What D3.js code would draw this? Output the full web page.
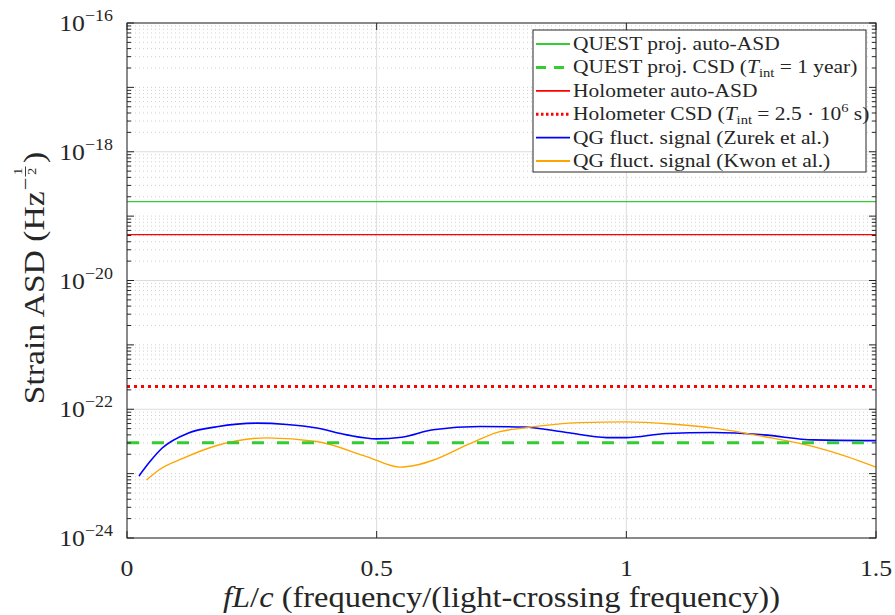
<!DOCTYPE html>
<html>
<head>
<meta charset="utf-8">
<script src="https://cdn.jsdelivr.net/npm/d3@7"></script>
<style>
  body { margin: 0; background: #fff; }
  svg { display: block; }
  text { font-family: "Liberation Serif", "Times New Roman", serif; fill: #262626; }
</style>
</head>
<body>
<svg id="chart" width="895" height="615"></svg>
<script>
// ---- data ----
const xTicks = [0, 0.5, 1, 1.5];
const xTickLabels = ["0", "0.5", "1", "1.5"];
const yTickExponents = [-24, -22, -20, -18, -16];
const yTickLabels = ["\u221224", "\u221222", "\u221220", "\u221218", "\u221216"];

// flat noise levels (strain ASD, Hz^-1/2)
const questAutoASD = 1.68e-19;
const questCSD = 3.03e-23;
const holoAutoASD = 5.15e-20;
const holoCSD = 2.25e-22;

// QG fluctuation signal, Zurek et al.
const zurekFreq = [0.024, 0.046, 0.07, 0.122, 0.18, 0.26, 0.32, 0.38, 0.44, 0.5, 0.55, 0.613, 0.707, 0.794, 0.88, 0.961, 1.0, 1.08, 1.174, 1.275, 1.375, 1.5];
const zurekASD  = [9.2e-24, 1.54e-23, 2.48e-23, 4.25e-23, 5.35e-23, 6.08e-23, 5.8e-23, 5.1e-23, 4.0e-23, 3.47e-23, 3.68e-23, 4.8e-23, 5.4e-23, 5.3e-23, 4.35e-23, 3.63e-23, 3.63e-23, 4.2e-23, 4.35e-23, 4.0e-23, 3.34e-23, 3.25e-23];

// QG fluctuation signal, Kwon et al.
const kwonFreq = [0.039, 0.066, 0.113, 0.18, 0.28, 0.38, 0.48, 0.547, 0.58, 0.614, 0.681, 0.747, 0.794, 0.908, 1.0, 1.09, 1.175, 1.275, 1.375, 1.442, 1.5];
const kwonASD  = [7.98e-24, 1.17e-23, 1.74e-23, 2.73e-23, 3.59e-23, 3.15e-23, 1.84e-23, 1.26e-23, 1.36e-23, 1.63e-23, 2.79e-23, 4.5e-23, 5.1e-23, 6.2e-23, 6.37e-23, 5.9e-23, 5.1e-23, 3.77e-23, 2.63e-23, 1.84e-23, 1.26e-23];

// legend entries: text segments [text, style]
const legendLabels = [
  [["QUEST proj. auto-ASD", ""]],
  [["QUEST proj. CSD (", ""], ["T", "i"], ["int", "sub"], [" = 1 year)", ""]],
  [["Holometer auto-ASD", ""]],
  [["Holometer CSD (", ""], ["T", "i"], ["int", "sub"], [" = 2.5 \u00b7 10", ""], ["6", "sup"], [" s)", ""]],
  [["QG fluct. signal (Zurek et al.)", ""]],
  [["QG fluct. signal (Kwon et al.)", ""]]
];

// ---- styles ----
const styles = [
  { color: "#33cc33", width: 1.2, dash: null },
  { color: "#33cc33", width: 3, dash: "12,13" },
  { color: "#ff0000", width: 1.2, dash: null },
  { color: "#ff0000", width: 3, dash: "3,4" },
  { color: "#0000ff", width: 1.6, dash: null },
  { color: "#ffa500", width: 1.4, dash: null }
];
const STRETCH = 1.12;   // widen the serif glyphs a little

const svg = d3.select("#chart");
const m = { left: 127, right: 876, top: 23, bottom: 538 };
const x = d3.scaleLinear().domain([0, 1.5]).range([m.left, m.right]);
const y = d3.scaleLog().domain([1e-24, 1e-16]).range([m.bottom, m.top]);
const axisCol = "#262626";

// text helper: places text at (px, py) with horizontal stretch
function label(parent, px, py, size, anchor) {
  return parent.append("text")
    .attr("transform", `translate(${px},${py}) scale(${STRETCH},1)`)
    .attr("font-size", size)
    .attr("text-anchor", anchor || "start");
}

// ---- grid ----
const grid = svg.append("g");
const minorVals = [];
for (let e = -24; e < -16; e++) {
  for (let k = 1; k <= 9; k++) {
    if (k === 1 && e % 2 === 0) continue;
    minorVals.push(k * Math.pow(10, e));
  }
}
grid.selectAll(".minor").data(minorVals).join("line")
  .attr("x1", m.left).attr("x2", m.right)
  .attr("y1", d => y(d)).attr("y2", d => y(d))
  .attr("stroke", "#c4c4c4").attr("stroke-width", 0.8)
  .attr("stroke-dasharray", "1,3");
grid.selectAll(".majorY").data(yTickExponents.map(e => Math.pow(10, e))).join("line")
  .attr("x1", m.left).attr("x2", m.right)
  .attr("y1", d => y(d)).attr("y2", d => y(d))
  .attr("stroke", "#dcdcdc").attr("stroke-width", 1);
grid.selectAll(".majorX").data(xTicks).join("line")
  .attr("x1", d => x(d)).attr("x2", d => x(d))
  .attr("y1", m.top).attr("y2", m.bottom)
  .attr("stroke", "#dcdcdc").attr("stroke-width", 1);

// ---- data lines ----
const plot = svg.append("g");
const xDom = x.domain();
const line = d3.line().x(d => x(d[0])).y(d => y(d[1]));
const smooth = d3.line().x(d => x(d[0])).y(d => y(d[1])).curve(d3.curveMonotoneX);

const zurek = zurekFreq.map((f, i) => [f, zurekASD[i]]);
const kwon = kwonFreq.map((f, i) => [f, kwonASD[i]]);

function drawPath(data, st, gen) {
  plot.append("path").datum(data)
    .attr("d", gen)
    .attr("fill", "none")
    .attr("stroke", st.color)
    .attr("stroke-width", st.width)
    .attr("stroke-dasharray", st.dash);
}
drawPath(xDom.map(f => [f, questAutoASD]), styles[0], line);
drawPath(xDom.map(f => [f, holoAutoASD]), styles[2], line);
drawPath(xDom.map(f => [f, holoCSD]), styles[3], line);
drawPath(zurek, styles[4], smooth);
drawPath(kwon, styles[5], smooth);
drawPath(xDom.map(f => [f, questCSD]), styles[1], line);

// ---- axes box and ticks ----
const ax = svg.append("g");
ax.append("rect").attr("x", m.left).attr("y", m.top)
  .attr("width", m.right - m.left).attr("height", m.bottom - m.top)
  .attr("fill", "none").attr("stroke", axisCol).attr("stroke-width", 1);

const minorTicks = [];
for (let e = -24; e < -16; e++) for (let k = 2; k <= 9; k++) minorTicks.push(k * Math.pow(10, e));
const oddDecades = [];
for (let e = -23; e < -16; e += 2) oddDecades.push(Math.pow(10, e));
const yMajor = yTickExponents.map(e => Math.pow(10, e));

function yTickMarks(vals, len) {
  [m.left, m.right].forEach((xx, side) => {
    ax.selectAll(null).data(vals).join("line")
      .attr("x1", xx).attr("x2", side === 0 ? xx + len : xx - len)
      .attr("y1", d => y(d)).attr("y2", d => y(d))
      .attr("stroke", axisCol).attr("stroke-width", 1);
  });
}
yTickMarks(minorTicks, 4);
yTickMarks(oddDecades, 7);
yTickMarks(yMajor, 7);

[m.bottom, m.top].forEach((yy, side) => {
  ax.selectAll(null).data(xTicks).join("line")
    .attr("x1", d => x(d)).attr("x2", d => x(d))
    .attr("y1", yy).attr("y2", side === 0 ? yy - 7 : yy + 7)
    .attr("stroke", axisCol).attr("stroke-width", 1);
});

// tick labels
const xl = svg.append("g");
xTicks.forEach((d, i) => {
  label(xl, x(d), 576, 23, "middle").text(xTickLabels[i]);
});

const yl = svg.append("g");
yTickExponents.forEach((e, i) => {
  const t = label(yl, 113, y(Math.pow(10, e)) + 8, 23, "end");
  t.append("tspan").text("10");
  t.append("tspan").attr("font-size", 16).attr("dy", -10).text(yTickLabels[i]);
});

// x axis label
const xlab = label(svg, (m.left + m.right) / 2, 607, 29, "middle");
xlab.append("tspan").attr("font-style", "italic").text("fL");
xlab.append("tspan").text("/");
xlab.append("tspan").attr("font-style", "italic").text("c");
xlab.append("tspan").text(" (frequency/(light-crossing frequency))");

// y axis label (rotated, with Hz^(-1/2))
const ylab = svg.append("g");
const yInner = ylab.append("g");
const t1 = yInner.append("text").attr("x", 0).attr("y", 0).attr("font-size", 30).text("Strain ASD (Hz");
const w1 = t1.node().getComputedTextLength();
const tm = yInner.append("text").attr("x", w1 + 1).attr("y", -12).attr("font-size", 20).text("\u2212");
const wm = tm.node().getComputedTextLength();
const fx = w1 + 1 + wm + 1;
yInner.append("text").attr("x", fx + 4.5).attr("y", -22).attr("font-size", 13).attr("text-anchor", "middle").text("1");
yInner.append("line").attr("x1", fx).attr("x2", fx + 9).attr("y1", -18.5).attr("y2", -18.5)
  .attr("stroke", axisCol).attr("stroke-width", 0.9);
yInner.append("text").attr("x", fx + 4.5).attr("y", -8).attr("font-size", 13).attr("text-anchor", "middle").text("2");
const tp = yInner.append("text").attr("x", fx + 12).attr("y", 0).attr("font-size", 30).text(")");
const total = fx + 12 + tp.node().getComputedTextLength();
yInner.attr("transform", `scale(${STRETCH},1) translate(${-total / 2},0)`);
ylab.attr("transform", `translate(44,278) rotate(-90)`);

// ---- legend ----
const lg = svg.append("g");
const lb = { x: 533, y: 30, w: 333, h: 142 };
lg.append("rect").attr("x", lb.x).attr("y", lb.y).attr("width", lb.w).attr("height", lb.h)
  .attr("fill", "#fff").attr("stroke", axisCol).attr("stroke-width", 1);
const rowY = i => 44 + i * 23.4;
legendLabels.forEach((parts, i) => {
  const st = styles[i];
  lg.append("line").attr("x1", 536).attr("x2", 570)
    .attr("y1", rowY(i)).attr("y2", rowY(i))
    .attr("stroke", st.color).attr("stroke-width", Math.max(st.width, 1.8))
    .attr("stroke-dasharray", st.dash ? (i === 1 ? "10,8" : "2.5,2.5") : null);
  const t = label(lg, 573, rowY(i) + 6, 19.2, "start");
  let shift = 0;
  parts.forEach(([s, kind]) => {
    const sp = t.append("tspan").text(s);
    if (kind === "i") sp.attr("font-style", "italic");
    if (kind === "sub") { sp.attr("font-size", 13).attr("dy", 4); shift = 4; }
    else if (kind === "sup") { sp.attr("font-size", 13).attr("dy", -8); shift = -8; }
    else if (shift !== 0) { sp.attr("dy", -shift); shift = 0; }
  });
});
</script>
</body>
</html>
